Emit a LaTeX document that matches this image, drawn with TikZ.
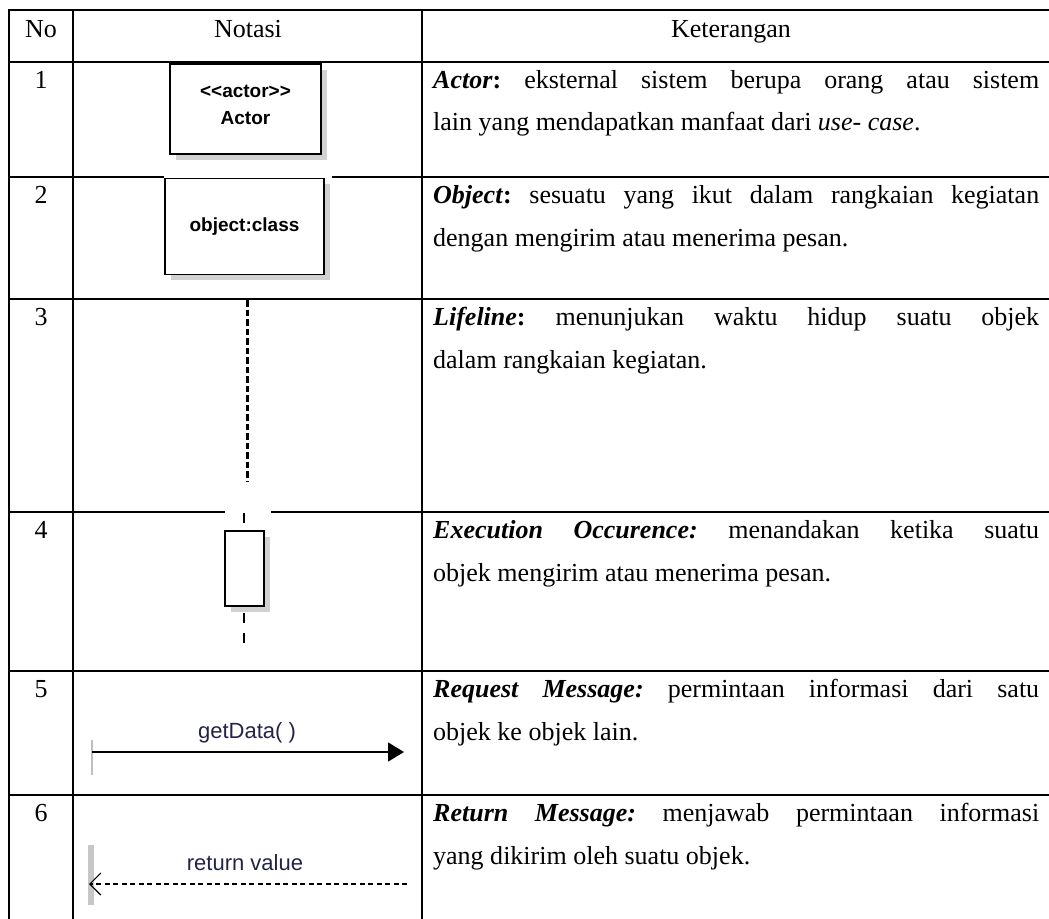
\documentclass[tikz,border=0pt]{standalone}
\usepackage{fontspec}
\setmainfont{Liberation Serif}
\setsansfont{Liberation Sans}
\usepackage{tikz}
\usetikzlibrary{arrows.meta,shadows}
\usepackage{xcolor}
\definecolor{msgcol}{RGB}{35,35,70}
\frenchspacing

\begin{document}
\begin{tikzpicture}[
    x=1pt, y=-1pt,
    grid/.style={line width=2.6pt, line cap=rect},
    txt/.style={font=\fontsize{26}{30}\selectfont, inner sep=0pt},
    hd/.style={txt, anchor=base},
    desc/.style={txt, anchor=base west},
    umlbox/.style={draw, line width=1.4pt, fill=white, inner sep=0pt,
        drop shadow={shadow xshift=5.5pt, shadow yshift=-5.5pt, fill=black!18, opacity=1}},
    umltext/.style={font=\sffamily\bfseries\fontsize{19}{27}\selectfont, align=center},
    msgtext/.style={font=\sffamily\fontsize{22}{26}\selectfont, text=msgcol, inner sep=0pt},
    gap/.style={fill=white, draw=none},
    lifeline/.style={line width=3pt, dash pattern=on 6.5pt off 3pt},
    reqmsg/.style={line width=1.5pt, -{Triangle[length=16pt,width=19pt]}},
    retmsg/.style={line width=1.2pt, dash pattern=on 5pt off 3.5pt, -{Straight Barb[length=11pt,width=22pt]}}
]
\useasboundingbox (0,0) rectangle (1049,918);
% Table rules
\foreach \y in {10,62,177,299,512,671,795}
    \draw[grid] (9,\y) -- (1052,\y);
\foreach \x in {9,73,422}
    \draw[grid] (\x,10) -- (\x,922);
% Header
\node[hd] (hno) at (41,37) {No};
\node[hd] (hnot) at (248,37) {Notasi};
\node[hd] (hket) at (731,37) {Keterangan};
% Row numbers
\foreach \n/\y in {1/88,2/203,3/325,4/538,5/697,6/821}
    \node[hd] (no\n) at (41,\y) {\n};
% Row 1: actor
\node[umlbox, umltext, minimum width=151pt, minimum height=90pt, text depth=8pt] (actor) at (245.5,109) {<{}<actor>{}>\\Actor};
% Row 2: object
\fill[gap] (164,175) rectangle (332,178.5);
\node[umlbox, umltext, minimum width=159pt, minimum height=95.5pt] (obj) at (244.5,226.5) {object:class};
% Row 3: lifeline
\coordinate (lltop) at (247,300);
\coordinate (llbot) at (247,481);
\draw[lifeline] (lltop) -- (llbot);
% Row 4: execution occurence
\fill[gap] (225,510) rectangle (271,514);
\coordinate (extop) at (244,513);
\coordinate (exbot) at (244,653);
\draw[line width=1.3pt, dash pattern=on 10pt off 10pt] (extop) -- (exbot);
\node[umlbox, minimum width=39pt, minimum height=75pt] (exec) at (244.5,568.5) {};
% Row 5: request message
\draw[black!25, line width=1.5pt] (92,740) -- (92,775);
\coordinate (reqfrom) at (92,752);
\coordinate (reqto) at (404,752);
\draw[reqmsg] (reqfrom) -- (reqto);
\node[msgtext] (getdata) at (247,733) {getData( )};
% Row 6: return message
\fill[black!22] (87.5,845) rectangle (94,905);
\coordinate (retfrom) at (407,884);
\coordinate (retto) at (89,884);
\draw[retmsg] (retfrom) -- (retto);
\node[msgtext] (retval) at (245,863) {return value};
% Keterangan
\node[desc] (d1a) at (433,88) {\makebox[606pt][s]{\textbf{\textit{Actor}:} eksternal sistem berupa orang atau sistem}};
\node[desc] (d1b) at (433,130) {lain yang mendapatkan manfaat dari \textit{use- case}.};
\node[desc] (d2a) at (433,203) {\makebox[606pt][s]{\textbf{\textit{Object}:} sesuatu yang ikut dalam rangkaian kegiatan}};
\node[desc] (d2b) at (433,246) {dengan mengirim atau menerima pesan.};
\node[desc] (d3a) at (433,325) {\makebox[606pt][s]{\textbf{\textit{Lifeline}:} menunjukan waktu hidup suatu objek}};
\node[desc] (d3b) at (433,368) {dalam rangkaian kegiatan.};
\node[desc] (d4a) at (433,538) {\makebox[606pt][s]{\textbf{\textit{Execution Occurence:}} menandakan ketika suatu}};
\node[desc] (d4b) at (433,581) {objek mengirim atau menerima pesan.};
\node[desc] (d5a) at (433,697) {\makebox[606pt][s]{\textbf{\textit{Request Message:}} permintaan informasi dari satu}};
\node[desc] (d5b) at (433,740) {objek ke objek lain.};
\node[desc] (d6a) at (433,821) {\makebox[606pt][s]{\textbf{\textit{Return Message:}} menjawab permintaan informasi}};
\node[desc] (d6b) at (433,864) {yang dikirim oleh suatu objek.};
\end{tikzpicture}
\end{document}
